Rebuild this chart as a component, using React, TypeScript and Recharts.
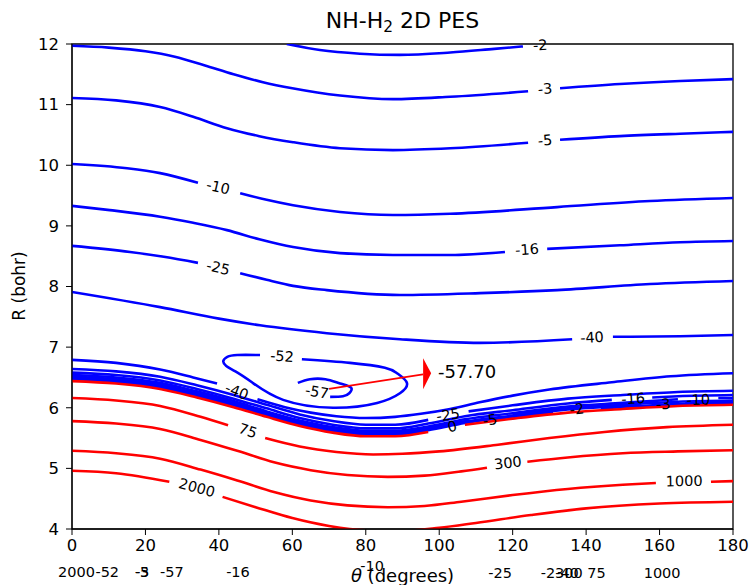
import React from 'react';
import { LineChart, Line, XAxis, YAxis, ReferenceDot, ReferenceArea } from 'recharts';

const BLUE = '#0000ff';
const RED = '#ff0000';
const FONT = 'DejaVu Sans, Verdana, sans-serif';

const thetaTicks = [0, 20, 40, 60, 80, 100, 120, 140, 160, 180];
const rTicks = [4, 5, 6, 7, 8, 9, 10, 11, 12];

// contour paths as [theta, R]; a null R leaves the gap where the level label sits
const lvNeg2 = [[58.5, 12.0], [67.5, 11.9], [78.4, 11.84], [89.3, 11.82], [103, 11.86], [115, 11.92], [122.8, 11.96], [127.5, null], [131, 12.02], [138, 12.06]];
const lvNeg3 = [[0, 11.97], [10, 11.94], [20, 11.88], [28, 11.79], [36, 11.65], [44, 11.5], [52, 11.37], [60, 11.27], [73, 11.15], [87.4, 11.09], [103, 11.13], [124.2, 11.22], [128.8, null], [132.9, 11.27], [149.2, 11.34], [165.6, 11.39], [180, 11.42]];
const lvNeg5 = [[0, 11.11], [12, 11.07], [24, 10.96], [33, 10.8], [42.2, 10.61], [51, 10.48], [60.2, 10.38], [73, 10.28], [87.4, 10.25], [103, 10.28], [124.2, 10.37], [128.8, null], [132.9, 10.42], [149.2, 10.48], [165.6, 10.52], [180, 10.55]];
const lvNeg10 = [[0, 10.02], [15, 9.95], [24, 9.87], [34.3, 9.71], [39.8, null], [45.8, 9.54], [53, 9.43], [60.2, 9.34], [73, 9.23], [87.4, 9.18], [103, 9.2], [132.1, 9.31], [157.4, 9.41], [180, 9.46]];
const lvNeg16 = [[0, 9.33], [10.3, 9.26], [24, 9.15], [33, 9.05], [42.2, 8.93], [51, 8.78], [60.2, 8.65], [73, 8.55], [87.4, 8.52], [103, 8.52], [117.9, 8.57], [123.9, null], [129.4, 8.62], [149.2, 8.68], [165.6, 8.73], [180, 8.75]];
const lvNeg25 = [[0, 8.67], [15.8, 8.57], [25, 8.49], [34.3, 8.39], [39.8, null], [45.8, 8.22], [53, 8.11], [60.2, 8.01], [69.4, 7.94], [89.3, 7.86], [111.1, 7.89], [132.1, 7.94], [157.4, 8.04], [180, 8.09]];
const lvNeg40 = [[0, 7.91], [24, 7.66], [40, 7.47], [51.2, 7.36], [69.4, 7.23], [89.3, 7.13], [111.1, 7.07], [136.2, 7.13], [141.6, null], [147.3, 7.17], [165.6, 7.18], [180, 7.2]];

// inner side of the well
const lvNeg40In = [[0, 6.79], [12, 6.74], [24, 6.63], [33, 6.5], [39.5, 6.4], [45, null], [50.5, 6.14], [58, 6.01], [65, 5.92], [72, 5.86], [80, 5.83], [88, 5.85], [95, 5.9], [103, 5.98], [111, 6.09], [120, 6.2], [130, 6.3], [147, 6.42], [163, 6.52], [180, 6.57]];
const lvNeg52 = [[62.6, 6.8], [75.7, 6.74], [85.2, 6.66], [88.5, 6.57], [91.2, 6.41], [89.3, 6.24], [83.1, 6.08], [71.1, 6.0], [57.5, 6.13], [49, 6.42], [44.5, 6.6], [42, 6.69], [41.2, 6.77], [42.3, 6.84], [45, 6.87], [51.2, 6.87]];
const lvNeg57 = [[61.5, 6.41], [64.8, 6.47], [69, 6.47], [73, 6.4], [76, 6.33], [75.5, 6.24], [73.8, 6.19], [70.3, 6.18]];

// repulsive wall
const wallNeg25 = [[0, 6.64], [12, 6.6], [24, 6.51], [34, 6.37], [44, 6.21], [53, 6.05], [62, 5.89], [71, 5.78], [80, 5.72], [88, 5.72], [97, 5.8], [102, null], [108, 5.94], [120, 6.04], [135, 6.15], [150, 6.21], [165, 6.26], [180, 6.28]];
const wallNeg16 = [[0, 6.58], [12, 6.54], [24, 6.45], [34, 6.31], [44, 6.15], [53, 5.99], [62, 5.83], [71, 5.72], [80, 5.66], [88, 5.66], [97, 5.74], [107, 5.86], [120, 5.96], [135, 6.07], [147, 6.13], [152, null], [158, 6.17], [165, 6.19], [180, 6.21]];
const wallNeg10 = [[0, 6.54], [12, 6.5], [24, 6.41], [34, 6.27], [44, 6.11], [53, 5.94], [62, 5.79], [71, 5.68], [80, 5.62], [88, 5.62], [97, 5.69], [107, 5.81], [120, 5.91], [135, 6.02], [150, 6.08], [165, 6.14], [170, null], [176, 6.16], [180, 6.16]];
const wallNeg5 = [[0, 6.51], [12, 6.47], [24, 6.38], [34, 6.24], [44, 6.08], [53, 5.92], [62, 5.77], [71, 5.66], [80, 5.6], [88, 5.6], [97, 5.67], [108, 5.79], [114, null], [120, 5.89], [135, 5.99], [150, 6.05], [165, 6.1], [180, 6.12]];
const wallNeg3 = [[0, 6.49], [12, 6.45], [24, 6.36], [34, 6.22], [44, 6.06], [53, 5.9], [62, 5.75], [71, 5.64], [80, 5.58], [88, 5.58], [97, 5.65], [107, 5.77], [120, 5.87], [135, 5.97], [150, 6.03], [155, 6.05], [161, null], [167, 6.08], [180, 6.1]];
const wallNeg2 = [[0, 6.47], [12, 6.43], [24, 6.34], [34, 6.2], [44, 6.04], [53, 5.88], [62, 5.73], [71, 5.62], [80, 5.56], [88, 5.56], [97, 5.63], [107, 5.75], [120, 5.85], [131, 5.93], [137, null], [144, 5.99], [150, 6.01], [165, 6.06], [180, 6.08]];

// zero and positive levels
const lvZero = [[0, 6.44], [12, 6.4], [24, 6.31], [34, 6.17], [44, 6.01], [53, 5.85], [62, 5.7], [71, 5.59], [80, 5.53], [88, 5.53], [97, 5.6], [102, null], [107, 5.72], [120, 5.82], [135, 5.92], [150, 5.98], [165, 6.03], [180, 6.05]];
const lv75 = [[0, 6.16], [12, 6.12], [24, 6.03], [35, 5.85], [42.5, 5.71], [48, null], [52.6, 5.5], [62, 5.36], [72, 5.27], [82, 5.23], [90, 5.24], [100, 5.28], [116, 5.39], [130, 5.5], [145, 5.6], [162, 5.68], [180, 5.72]];
const lv300 = [[0, 5.78], [12, 5.74], [24, 5.65], [35, 5.47], [45, 5.29], [55, 5.1], [65, 4.97], [75, 4.89], [86, 4.86], [96, 4.88], [106, 4.95], [113, 5.01], [118.7, null], [124, 5.11], [135, 5.18], [150, 5.25], [165, 5.28], [180, 5.3]];
const lv1000 = [[0, 5.29], [12, 5.25], [24, 5.16], [35, 4.98], [45, 4.8], [55, 4.61], [65, 4.47], [75, 4.39], [86, 4.36], [96, 4.38], [106, 4.45], [120, 4.56], [135, 4.66], [150, 4.73], [159, 4.76], [166.7, null], [174, 4.78], [180, 4.79]];
const lv2000 = [[0, 4.96], [12, 4.92], [26.5, 4.78], [34, null], [41, 4.53], [50, 4.36], [60, 4.18], [70, 4.05], [80, 3.98], [90, 3.97], [100, 4.02], [110, 4.1], [125, 4.23], [140, 4.34], [160, 4.42], [180, 4.45]];

// global minimum and its annotation
const minPoint = [70, 6.31];
const minArrowEnd = [95.6, 6.55];
const minArrowTip = [97.8, 6.57];
const minText = [99.7, 6.59];
const minValue = '-57.70';

// level labels sitting in the contour gaps: [text, theta, R]
const levelLabels: [string, number, number][] = [
  ['-2', 127.5, 11.98], ['-3', 128.8, 11.26], ['-5', 128.8, 10.41], ['-10', 39.8, 9.64],
  ['-16', 123.9, 8.61], ['-25', 39.8, 8.31], ['-40', 141.6, 7.16], ['-40', 44.9, 6.27],
  ['-52', 57.2, 6.85], ['-57', 66.7, 6.26], ['75', 47.9, 5.62], ['2000', 34.0, 4.68],
  ['300', 118.7, 5.09], ['1000', 166.7, 4.79], ['-25', 102.4, 5.88], ['0', 103.5, 5.69],
  ['-5', 113.8, 5.8], ['-2', 137.5, 5.98], ['-16', 152.8, 6.15], ['-3', 161, 6.06], ['-10', 170.5, 6.13],
];
const labelTilt = [-3, -5, -5, 13, -4, 13, -3, 21, 4, 10, 19, 15, -7, -1, -8, -10, -9, -6, -3, -3, -2];

// labels that ended up under the axis
const strayLabels: [string, number, number][] = [
  ['2000', 1.2, 3.29], ['-52', 9.6, 3.29], ['-5', 19.1, 3.29], ['-3', 19.1, 3.29], ['-57', 27.2, 3.29],
  ['-16', 45.2, 3.29], ['-10', 81.7, 3.39], ['-25', 116.6, 3.27], ['-2', 129.6, 3.27],
  ['300', 135.3, 3.27], ['-40', 134.8, 3.27], ['75', 142.8, 3.27], ['1000', 160.7, 3.27],
];

const toPts = (rows: (number | null)[][]) => rows.map(([t, r]) => ({ t, r }));

// closed loops need a parametric curve, the rest run left to right
const contours = [
  { rows: lvNeg2, color: BLUE }, { rows: lvNeg3, color: BLUE }, { rows: lvNeg5, color: BLUE },
  { rows: lvNeg10, color: BLUE }, { rows: lvNeg16, color: BLUE }, { rows: lvNeg25, color: BLUE },
  { rows: lvNeg40, color: BLUE }, { rows: lvNeg40In, color: BLUE }, { rows: lvNeg52, color: BLUE, loop: true },
  { rows: lvNeg57, color: BLUE, loop: true }, { rows: wallNeg25, color: BLUE }, { rows: wallNeg16, color: BLUE },
  { rows: wallNeg10, color: BLUE }, { rows: wallNeg5, color: BLUE }, { rows: wallNeg3, color: BLUE },
  { rows: wallNeg2, color: BLUE }, { rows: lvZero, color: RED }, { rows: lv75, color: RED },
  { rows: lv300, color: RED }, { rows: lv1000, color: RED }, { rows: lv2000, color: RED },
];

const textShape = (text: string, rot: number, size: number, anchor = 'middle') => (p: any) => (
  <text
    x={p.cx}
    y={p.cy}
    transform={`rotate(${rot} ${p.cx} ${p.cy})`}
    textAnchor={anchor}
    dominantBaseline="central"
    fontSize={size}
    fontFamily={FONT}
    fill="#000"
  >
    {text}
  </text>
);

const arrowHead = (p: any) => (
  <polygon points={`${p.cx},${p.cy} ${p.cx - 8},${p.cy - 15} ${p.cx - 8},${p.cy + 16}`} fill={RED} />
);

const tickStyle = { fontSize: 16.5, fill: '#000', fontFamily: FONT };

const App = () => {
  return (
    <div style={{ position: 'absolute', left: 0, top: 0, width: 749, height: 585, background: '#fff', fontFamily: FONT }}>
      <div style={{ position: 'absolute', left: 402.5, top: 23, transform: 'translate(-50%, -50%)', fontSize: 22, whiteSpace: 'nowrap', lineHeight: 1 }}>
        NH-H<sub style={{ fontSize: '70%', verticalAlign: '-0.25em' }}>2</sub> 2D PES
      </div>
      <div style={{ position: 'absolute', left: 19, top: 286, transform: 'translate(-50%, -50%) rotate(-90deg)', fontSize: 17, whiteSpace: 'nowrap' }}>
        R (bohr)
      </div>
      <div style={{ position: 'absolute', left: 402.5, top: 575, transform: 'translate(-50%, -50%)', fontSize: 18, whiteSpace: 'nowrap' }}>
        <i>θ</i> (degrees)
      </div>
      <LineChart width={749} height={585} margin={{ top: 44, right: 16, bottom: 26, left: 22 }}>
        <XAxis
          type="number"
          dataKey="t"
          domain={[0, 180]}
          ticks={thetaTicks}
          allowDataOverflow
          height={30}
          tickSize={6}
          tickMargin={4}
          stroke="#000"
          tick={tickStyle}
        />
        <YAxis
          type="number"
          dataKey="r"
          domain={[4, 12]}
          ticks={rTicks}
          allowDataOverflow
          width={50}
          tickSize={6}
          tickMargin={7}
          stroke="#000"
          tick={tickStyle}
        />
        <ReferenceArea x1={0} x2={180} y1={4} y2={12} fill="none" stroke="#000" strokeWidth={1.3} ifOverflow="visible" />
        {contours.map((c, i) => (
          <Line
            key={i}
            data={toPts(c.rows)}
            dataKey="r"
            type={c.loop ? 'natural' : 'monotone'}
            stroke={c.color}
            strokeWidth={2.6}
            dot={false}
            activeDot={false}
            connectNulls={false}
            isAnimationActive={false}
          />
        ))}
        <Line
          data={toPts([minPoint, minArrowEnd])}
          dataKey="r"
          type="linear"
          stroke={RED}
          strokeWidth={1.7}
          dot={false}
          activeDot={false}
          isAnimationActive={false}
        />
        <ReferenceDot x={minArrowTip[0]} y={minArrowTip[1]} r={0} ifOverflow="visible" shape={arrowHead} />
        <ReferenceDot x={minText[0]} y={minText[1]} r={0} ifOverflow="visible" shape={textShape(minValue, 0, 18, 'start')} />
        {levelLabels.map(([text, t, r], i) => (
          <ReferenceDot key={`l${i}`} x={t} y={r} r={0} ifOverflow="visible" shape={textShape(text, labelTilt[i], 14.5)} />
        ))}
        {strayLabels.map(([text, t, r], i) => (
          <ReferenceDot key={`s${i}`} x={t} y={r} r={0} ifOverflow="visible" shape={textShape(text, 0, 14.5)} />
        ))}
      </LineChart>
    </div>
  );
};

export default App;
